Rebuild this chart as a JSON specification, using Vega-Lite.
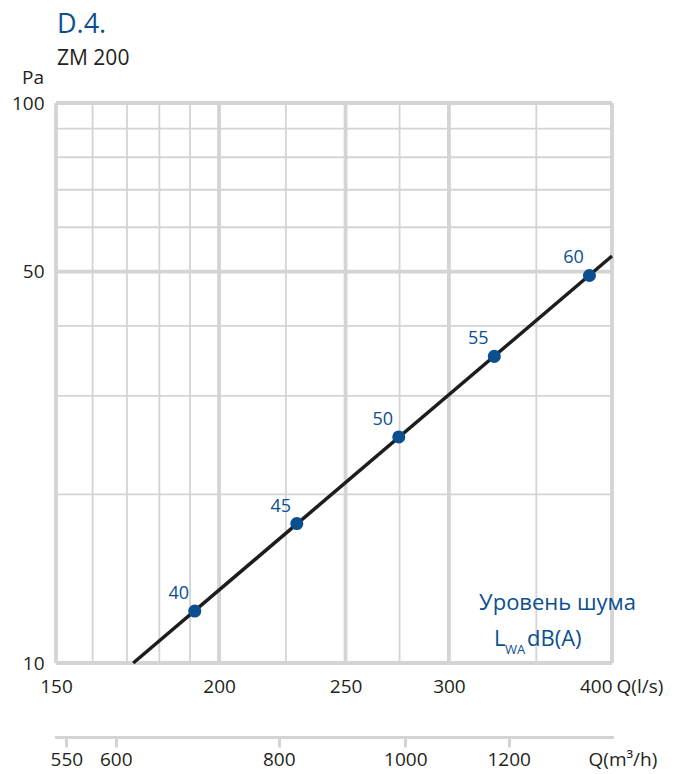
{
  "$schema": "https://vega.github.io/schema/vega-lite/v6.json",
  "width": 556,
  "height": 560,
  "autosize": "none",
  "padding": {"left": 56, "top": 103, "right": 69, "bottom": 111},
  "background": "white",
  "config": {"view": {"stroke": null}, "font": "Open Sans"},
  "datasets": {
    "vgrid": [
      {"q": 150, "kind": "major"}, {"q": 160, "kind": "minor"}, {"q": 170, "kind": "minor"},
      {"q": 180, "kind": "minor"}, {"q": 190, "kind": "minor"}, {"q": 200, "kind": "major"},
      {"q": 225, "kind": "minor"}, {"q": 250, "kind": "major"}, {"q": 275, "kind": "minor"},
      {"q": 300, "kind": "major"}, {"q": 350, "kind": "minor"}, {"q": 400, "kind": "major"}
    ],
    "hgrid": [
      {"p": 10, "kind": "major"}, {"p": 20, "kind": "minor"}, {"p": 30, "kind": "minor"},
      {"p": 40, "kind": "minor"}, {"p": 50, "kind": "major"}, {"p": 60, "kind": "minor"},
      {"p": 70, "kind": "minor"}, {"p": 80, "kind": "minor"}, {"p": 90, "kind": "minor"},
      {"p": 100, "kind": "major"}
    ],
    "curve": [{"q": 171.9, "p": 10}, {"q": 400, "p": 53.3}],
    "points": [
      {"q": 191.6, "p": 12.38, "db": 40},
      {"q": 229.4, "p": 17.74, "db": 45},
      {"q": 274.6, "p": 25.33, "db": 50},
      {"q": 325.0, "p": 35.28, "db": 55},
      {"q": 384.4, "p": 49.2, "db": 60}
    ],
    "m3": [{"qm": 550}, {"qm": 600}, {"qm": 800}, {"qm": 1000}, {"qm": 1200}]
  },
  "layer": [
    {
      "layer": [
        {
          "data": {"name": "vgrid"},
          "mark": {"type": "rule", "color": "#d4d4d4"},
          "encoding": {
            "x": {
              "field": "q", "type": "quantitative",
              "scale": {"type": "log", "domain": [150, 400], "nice": false, "zero": false},
              "axis": {
                "values": [150, 200, 250, 300, 400], "format": "d",
                "grid": false, "domain": false, "ticks": false,
                "labelFontSize": 19, "labelColor": "#231f20", "labelPadding": 14,
                "labelAlign": {"condition": {"test": "datum.value == 400", "value": "right"}, "value": "center"},
                "labelFlush": false, "labelOverlap": false,
                "title": "Q(l/s)", "titleX": 560, "titleY": 29, "titleAlign": "left",
                "titleBaseline": "alphabetic", "titleFontSize": 19, "titleFontWeight": "normal",
                "titleColor": "#231f20"
              }
            },
            "strokeWidth": {"field": "kind", "type": "nominal", "scale": {"domain": ["minor", "major"], "range": [1.8, 3.8]}, "legend": null}
          }
        },
        {
          "data": {"name": "hgrid"},
          "mark": {"type": "rule", "color": "#d4d4d4"},
          "encoding": {
            "y": {
              "field": "p", "type": "quantitative",
              "scale": {"type": "log", "domain": [10, 100], "nice": false, "zero": false},
              "axis": {
                "values": [10, 50, 100], "format": "d",
                "grid": false, "domain": false, "ticks": false,
                "labelFontSize": 19, "labelColor": "#231f20", "labelPadding": 12,
                "labelFlush": false, "labelOverlap": false,
                "title": "Pa", "titleAngle": 0, "titleX": -23.5, "titleY": -20,
                "titleAlign": "center", "titleBaseline": "alphabetic",
                "titleFontSize": 19, "titleFontWeight": "normal", "titleColor": "#231f20"
              }
            },
            "strokeWidth": {"field": "kind", "type": "nominal", "scale": {"domain": ["minor", "major"], "range": [1.8, 3.8]}, "legend": null}
          }
        },
        {
          "data": {"name": "curve"},
          "mark": {"type": "line", "color": "#1d1d1b", "strokeWidth": 3.5},
          "encoding": {
            "x": {"field": "q", "type": "quantitative"},
            "y": {"field": "p", "type": "quantitative"}
          }
        },
        {
          "data": {"name": "points"},
          "mark": {"type": "point", "filled": true, "size": 170, "color": "#0c4f8f", "opacity": 1},
          "encoding": {
            "x": {"field": "q", "type": "quantitative"},
            "y": {"field": "p", "type": "quantitative"}
          }
        },
        {
          "data": {"name": "points"},
          "mark": {"type": "text", "dx": -16, "dy": -17, "fontSize": 18, "color": "#0c4f8f", "align": "center", "baseline": "middle"},
          "encoding": {
            "x": {"field": "q", "type": "quantitative"},
            "y": {"field": "p", "type": "quantitative"},
            "text": {"field": "db", "type": "quantitative"}
          }
        },
        {
          "data": {"values": [{}]},
          "mark": {"type": "text", "text": "D.4.", "fontSize": 27, "color": "#0c4f8f", "align": "left", "baseline": "alphabetic", "dx": 1, "dy": -70},
          "encoding": {"x": {"datum": 150}, "y": {"datum": 100}}
        },
        {
          "data": {"values": [{}]},
          "mark": {"type": "text", "text": "ZM 200", "fontSize": 21, "color": "#231f20", "align": "left", "baseline": "alphabetic", "dx": 1, "dy": -38},
          "encoding": {"x": {"datum": 150}, "y": {"datum": 100}}
        },
        {
          "data": {"values": [{}]},
          "mark": {"type": "text", "text": "Уровень шума", "fontSize": 22, "color": "#0c4f8f", "align": "center", "baseline": "alphabetic", "dx": -54.5, "dy": -53},
          "encoding": {"x": {"datum": 400}, "y": {"datum": 10}}
        },
        {
          "data": {"values": [{}]},
          "mark": {"type": "text", "text": "L", "fontSize": 22, "color": "#0c4f8f", "align": "left", "baseline": "alphabetic", "dx": -118, "dy": -17},
          "encoding": {"x": {"datum": 400}, "y": {"datum": 10}}
        },
        {
          "data": {"values": [{}]},
          "mark": {"type": "text", "text": "WA", "fontSize": 13, "color": "#0c4f8f", "align": "left", "baseline": "alphabetic", "dx": -107, "dy": -9},
          "encoding": {"x": {"datum": 400}, "y": {"datum": 10}}
        },
        {
          "data": {"values": [{}]},
          "mark": {"type": "text", "text": "dB(A)", "fontSize": 22, "color": "#0c4f8f", "align": "left", "baseline": "alphabetic", "dx": -85, "dy": -17},
          "encoding": {"x": {"datum": 400}, "y": {"datum": 10}}
        }
      ]
    },
    {
      "data": {"name": "m3"},
      "mark": {"type": "point", "opacity": 0},
      "encoding": {
        "x": {
          "field": "qm", "type": "quantitative",
          "scale": {"type": "log", "domain": [540, 1440], "nice": false, "zero": false},
          "axis": {
            "orient": "bottom", "offset": 74,
            "values": [550, 600, 800, 1000, 1200], "format": "d",
            "grid": false, "domain": true, "domainColor": "#d4d4d4", "domainWidth": 3, "domainCap": "square",
            "ticks": true, "tickColor": "#d4d4d4", "tickWidth": 3, "tickSize": 10,
            "labelFontSize": 19, "labelColor": "#231f20", "labelPadding": 3,
            "labelFlush": false, "labelOverlap": false,
            "title": "Q(m³/h)", "titleX": 532, "titleY": 28, "titleAlign": "left",
            "titleBaseline": "alphabetic", "titleFontSize": 19, "titleFontWeight": "normal",
            "titleColor": "#231f20"
          }
        }
      }
    }
  ],
  "resolve": {"scale": {"x": "independent"}, "axis": {"x": "independent"}}
}
